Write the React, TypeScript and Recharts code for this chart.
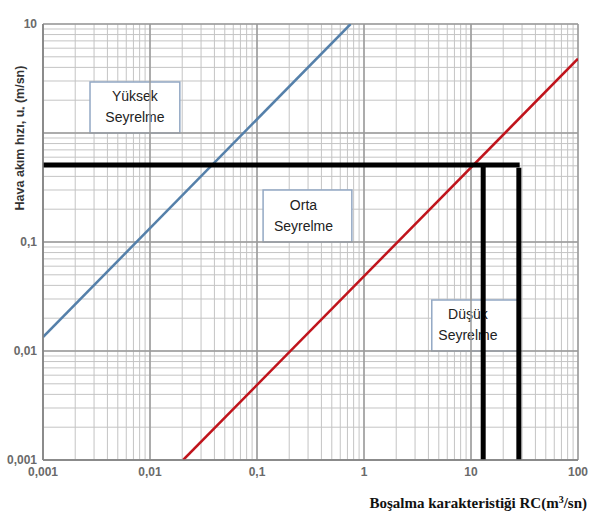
import React from 'react';
import {
  ComposedChart,
  Line,
  XAxis,
  YAxis,
  CartesianGrid,
  ReferenceLine,
  ReferenceArea,
} from 'recharts';

// ---- Data ----
const decadesX = [0.001, 0.01, 0.1, 1, 10, 100];
const decadesY = [0.001, 0.01, 0.1, 1, 10];
const minorSteps = [1, 2, 3, 4, 5, 6, 7, 8, 9];
const xTickLabels = ['0,001', '0,01', '0,1', '1', '10', '100'];
const yTickLabels = ['0,001', '0,01', '0,1', '', '10'];

// High dilution boundary (blue)
const blueRC = [0.001, 0.75];
const blueU = [0.0134, 10];
// Low dilution boundary (red)
const redRC = [0.0204, 100];
const redU = [0.001, 4.8];
// Reading lines (black)
const readU = 0.51;
const readRC1 = 13;
const readRC2 = 28;
const hLineRC = [0.001, 28.5];
const hLineU = [readU, readU];
const v1RC = [readRC1, readRC1];
const v1U = [readU, 0.001];
const v2RC = [readRC2, readRC2];
const v2U = [0.48, 0.001];

// Region boxes
const boxNames = [['Yüksek', 'Seyrelme'], ['Orta', 'Seyrelme'], ['Düşük', 'Seyrelme']];
const boxX1 = [0.00275, 0.114, 4.3];
const boxX2 = [0.019, 0.77, 28.7];
const boxY1 = [1.0, 0.1, 0.01];
const boxY2 = [2.94, 0.3, 0.0294];
const boxShift = [0, -4, -8];

const toPts = (xs: number[], ys: number[]) => xs.map((x, i) => ({ rc: x, u: ys[i] }));
const gridOf = (decs: number[]) => {
  const out: number[] = [];
  decs.forEach((d, i) => {
    if (i === decs.length - 1) {
      out.push(d);
    } else {
      minorSteps.forEach((m) => out.push(parseFloat((m * d).toPrecision(6))));
    }
  });
  return out;
};
const xGridTicks = gridOf(decadesX);
const yGridTicks = gridOf(decadesY);

const labelFor = (v: number, decs: number[], labels: string[]) => {
  const idx = decs.findIndex((d) => Math.abs(Math.log10(d) - Math.log10(v)) < 1e-6);
  return idx >= 0 ? labels[idx] : '';
};

const tickFont = { fontFamily: 'Liberation Sans, Arial, sans-serif', fontWeight: 700, fontSize: 12, fill: '#6a6a6a' };

const XTick = (props: any) => {
  const { x, y, payload } = props;
  const t = labelFor(payload.value, decadesX, xTickLabels);
  if (!t) return null;
  return (
    <text x={x} y={y} dy={9} textAnchor="middle" {...tickFont}>
      {t}
    </text>
  );
};

const YTick = (props: any) => {
  const { x, y, payload } = props;
  const t = labelFor(payload.value, decadesY, yTickLabels);
  if (!t) return null;
  return (
    <text x={x} y={y} dy={4} textAnchor="end" {...tickFont}>
      {t}
    </text>
  );
};

const makeBoxLabel = (lines: string[], shift: number) => (p: any) => {
  const vb = p.viewBox || {};
  const cx = vb.x + vb.width / 2 + shift;
  const cy = vb.y + vb.height / 2;
  return (
    <text
      textAnchor="middle"
      fontFamily="Liberation Sans, Arial, sans-serif"
      fontSize={14}
      fill="#222"
    >
      <tspan x={cx} y={cy - 6}>{lines[0]}</tspan>
      <tspan x={cx} y={cy + 15}>{lines[1]}</tspan>
    </text>
  );
};

export default function App() {
  return (
    <div style={{ position: 'absolute', left: 0, top: 0, width: 589, height: 517, background: '#fff' }}>
      <ComposedChart
        width={589}
        height={517}
        margin={{ top: 24, right: 11, left: 0, bottom: 0 }}
      >
        <CartesianGrid stroke="#c4c4c4" strokeWidth={1} />
        <XAxis
          type="number"
          dataKey="rc"
          scale="log"
          domain={[0.001, 100]}
          allowDataOverflow
          ticks={xGridTicks}
          interval={0}
          tickLine={false}
          tickSize={4}
          tickMargin={3}
          height={57}
          stroke="#808080"
          strokeWidth={1.5}
          tick={<XTick />}
          label={{
            content: () => (
              <text
                x={587}
                y={508}
                textAnchor="end"
                fontFamily="Liberation Serif, Times New Roman, serif"
                fontWeight={700}
                fontSize={15}
                fill="#111"
              >
                Boşalma karakteristiği RC(m
                <tspan dy={-5} fontSize={10}>3</tspan>
                <tspan dy={5}>/sn)</tspan>
              </text>
            ),
          }}
        />
        <YAxis
          type="number"
          dataKey="u"
          scale="log"
          domain={[0.001, 10]}
          allowDataOverflow
          ticks={yGridTicks}
          interval={0}
          tickLine={false}
          tickSize={4}
          tickMargin={2}
          width={43}
          stroke="#808080"
          strokeWidth={1.5}
          tick={<YTick />}
          label={{
            content: () => (
              <text
                x={24}
                y={138}
                transform="rotate(-90, 24, 138)"
                textAnchor="middle"
                fontFamily="Liberation Sans, Arial, sans-serif"
                fontWeight={700}
                fontSize={12.5}
                fill="#333"
              >
                Hava akım hızı, u
                <tspan dy={3} fontSize={8}>*</tspan>
                <tspan dy={-3}>{'  (m/sn)'}</tspan>
              </text>
            ),
          }}
        />
        {decadesX.map((d) => (
          <ReferenceLine key={'dx' + d} x={d} stroke="#9a9a9a" strokeWidth={1.5} />
        ))}
        {decadesY.map((d) => (
          <ReferenceLine key={'dy' + d} y={d} stroke="#9a9a9a" strokeWidth={1.5} />
        ))}
        {boxNames.map((lines, i) => (
          <ReferenceArea
            key={'box' + i}
            x1={boxX1[i]}
            x2={boxX2[i]}
            y1={boxY1[i]}
            y2={boxY2[i]}
            fill="#ffffff"
            fillOpacity={1}
            stroke="#93a8c4"
            strokeWidth={1.5}
            label={{ content: makeBoxLabel(lines, boxShift[i]) }}
          />
        ))}
        <Line
          data={toPts(blueRC, blueU)}
          dataKey="u"
          stroke="#5580aa"
          strokeWidth={2.5}
          dot={false}
          isAnimationActive={false}
        />
        <Line
          data={toPts(redRC, redU)}
          dataKey="u"
          stroke="#c0141c"
          strokeWidth={2.5}
          dot={false}
          isAnimationActive={false}
        />
        <Line
          data={toPts(hLineRC, hLineU)}
          dataKey="u"
          stroke="#000"
          strokeWidth={5}
          dot={false}
          isAnimationActive={false}
        />
        <Line
          data={toPts(v1RC, v1U)}
          dataKey="u"
          stroke="#000"
          strokeWidth={5}
          dot={false}
          isAnimationActive={false}
        />
        <Line
          data={toPts(v2RC, v2U)}
          dataKey="u"
          stroke="#000"
          strokeWidth={5}
          dot={false}
          isAnimationActive={false}
        />
      </ComposedChart>
    </div>
  );
}
